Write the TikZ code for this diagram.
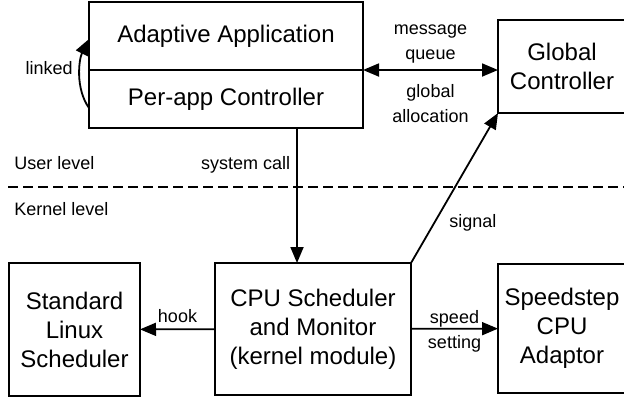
\documentclass[tikz,border=0pt]{standalone}
\usepackage{fontspec}
\setmainfont{Liberation Sans}
\usetikzlibrary{arrows.meta}
\usetikzlibrary{positioning}

\tikzset{
  box/.style={draw, line width=1pt, align=center, inner sep=0pt, outer sep=0pt,
    font=\fontsize{12}{14.5}\selectfont},
  lbl/.style={align=center, inner sep=2pt, font=\fontsize{9}{12.5}\selectfont},
  arr/.style={line width=0.9pt, -{Triangle[length=8pt, width=6.5pt]}},
}

\begin{document}
\begin{tikzpicture}[x=0.5pt, y=-0.5pt]
\useasboundingbox (0,0) rectangle (624,398);

% user level
\node[box, anchor=north west, minimum width=137pt, minimum height=34pt] (app) at (89,2) {Adaptive Application};
\node[box, below=0pt of app, minimum width=137pt, minimum height=29pt] (ctrl) {Per-app Controller};
\node[box, anchor=north west, minimum width=64pt, minimum height=46.5pt] (glob) at (498,20) {Global\\Controller};

% kernel level
\node[box, anchor=north west, minimum width=98pt, minimum height=66pt] (cpu) at (215,263) {CPU Scheduler\\and Monitor\\(kernel module)};
\node[box, anchor=north west, minimum width=65.5pt, minimum height=66.5pt] (linux) at (9,263) {Standard\\Linux\\Scheduler};
\node[box, anchor=north west, minimum width=64pt, minimum height=64.5pt] (speed) at (498,264) {Speedstep\\CPU\\Adaptor};

\draw[line width=1pt, dash pattern=on 5pt off 2.5pt] (8,187) -- (624,187);
\node[lbl, anchor=west] (user) at (10,163) {User level};
\node[lbl, anchor=west] (kern) at (10,209) {Kernel level};

\draw[arr] ([yshift=-4.5pt]ctrl.west) .. controls +(-7pt,10pt) and +(-5pt,-10pt) .. ([yshift=-1.5pt]app.west);
\node[lbl, anchor=east] (lnk) at (77,68) {linked};

\draw[line width=0.9pt, {Triangle[length=8pt, width=6.5pt]}-{Triangle[length=8pt, width=6.5pt]}] (ctrl.north east) -- (ctrl.north east -| glob.west)
  node[lbl, midway, above=1pt] {message\\queue}
  node[lbl, midway, below=5pt] {global\\allocation};

\draw[arr] ([xshift=35.5pt]ctrl.south) coordinate (sc) -- (sc |- cpu.north)
  node[lbl, pos=0.27, left=1pt] {system call};
\draw[arr] (cpu) -- (linux) node[lbl, midway, above=1pt] {hook};
\draw[arr] (cpu) -- (speed) node[lbl, midway, yshift=-1.5pt] {speed\\setting};
\draw[arr] (cpu.north east) -- (glob.south west) node[lbl, pos=0.27, right=5pt] {signal};
\end{tikzpicture}
\end{document}
